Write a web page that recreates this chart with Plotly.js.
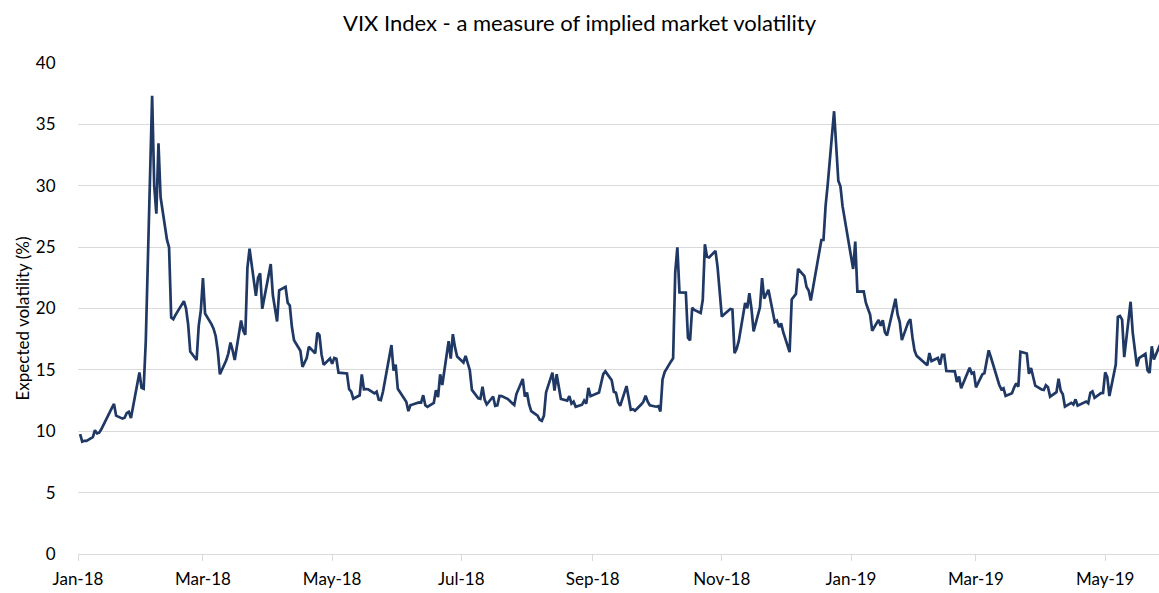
<!DOCTYPE html>
<html><head><meta charset="utf-8">
<script src="https://cdn.plot.ly/plotly-3.0.1.min.js"></script>
<style>html,body{margin:0;padding:0;background:#fff}#chart{width:1159px;height:593px}</style>
</head><body><div id="chart"></div>
<script>
const dates = [
'2018-01-02','2018-01-03','2018-01-04','2018-01-05','2018-01-08','2018-01-09','2018-01-10','2018-01-11','2018-01-12','2018-01-16','2018-01-17','2018-01-18','2018-01-19','2018-01-22','2018-01-23','2018-01-24','2018-01-25','2018-01-26','2018-01-29','2018-01-30','2018-01-31',
'2018-02-01','2018-02-02','2018-02-05','2018-02-06','2018-02-07','2018-02-08','2018-02-09','2018-02-12','2018-02-13','2018-02-14','2018-02-15','2018-02-16','2018-02-20','2018-02-21','2018-02-22','2018-02-23','2018-02-26','2018-02-27','2018-02-28',
'2018-03-01','2018-03-02','2018-03-05','2018-03-06','2018-03-07','2018-03-08','2018-03-09','2018-03-12','2018-03-13','2018-03-14','2018-03-15','2018-03-16','2018-03-19','2018-03-20','2018-03-21','2018-03-22','2018-03-23','2018-03-26','2018-03-27','2018-03-28','2018-03-29',
'2018-04-02','2018-04-03','2018-04-04','2018-04-05','2018-04-06','2018-04-09','2018-04-10','2018-04-11','2018-04-12','2018-04-13','2018-04-16','2018-04-17','2018-04-18','2018-04-19','2018-04-20','2018-04-23','2018-04-24','2018-04-25','2018-04-26','2018-04-27','2018-04-30',
'2018-05-01','2018-05-02','2018-05-03','2018-05-04','2018-05-07','2018-05-08','2018-05-09','2018-05-10','2018-05-11','2018-05-14','2018-05-15','2018-05-16','2018-05-17','2018-05-18','2018-05-21','2018-05-22','2018-05-23','2018-05-24','2018-05-25','2018-05-29','2018-05-30','2018-05-31',
'2018-06-01','2018-06-04','2018-06-05','2018-06-06','2018-06-07','2018-06-08','2018-06-11','2018-06-12','2018-06-13','2018-06-14','2018-06-15','2018-06-18','2018-06-19','2018-06-20','2018-06-21','2018-06-22','2018-06-25','2018-06-26','2018-06-27','2018-06-28','2018-06-29',
'2018-07-02','2018-07-03','2018-07-05','2018-07-06','2018-07-09','2018-07-10','2018-07-11','2018-07-12','2018-07-13','2018-07-16','2018-07-17','2018-07-18','2018-07-19','2018-07-20','2018-07-23','2018-07-24','2018-07-25','2018-07-26','2018-07-27','2018-07-30','2018-07-31',
'2018-08-01','2018-08-02','2018-08-03','2018-08-06','2018-08-07','2018-08-08','2018-08-09','2018-08-10','2018-08-13','2018-08-14','2018-08-15','2018-08-16','2018-08-17','2018-08-20','2018-08-21','2018-08-22','2018-08-23','2018-08-24','2018-08-27','2018-08-28','2018-08-29','2018-08-30','2018-08-31',
'2018-09-04','2018-09-05','2018-09-06','2018-09-07','2018-09-10','2018-09-11','2018-09-12','2018-09-13','2018-09-14','2018-09-17','2018-09-18','2018-09-19','2018-09-20','2018-09-21','2018-09-24','2018-09-25','2018-09-26','2018-09-27','2018-09-28',
'2018-10-01','2018-10-02','2018-10-03','2018-10-04','2018-10-05','2018-10-08','2018-10-09','2018-10-10','2018-10-11','2018-10-12','2018-10-15','2018-10-16','2018-10-17','2018-10-18','2018-10-19','2018-10-22','2018-10-23','2018-10-24','2018-10-25','2018-10-26','2018-10-29','2018-10-30','2018-10-31',
'2018-11-01','2018-11-02','2018-11-05','2018-11-06','2018-11-07','2018-11-08','2018-11-09','2018-11-12','2018-11-13','2018-11-14','2018-11-15','2018-11-16','2018-11-19','2018-11-20','2018-11-21','2018-11-23','2018-11-26','2018-11-27','2018-11-28','2018-11-29','2018-11-30',
'2018-12-03','2018-12-04','2018-12-06','2018-12-07','2018-12-10','2018-12-11','2018-12-12','2018-12-13','2018-12-14','2018-12-17','2018-12-18','2018-12-19','2018-12-20','2018-12-21','2018-12-24','2018-12-26','2018-12-27','2018-12-28','2018-12-31',
'2019-01-02','2019-01-03','2019-01-04','2019-01-07','2019-01-08','2019-01-09','2019-01-10','2019-01-11','2019-01-14','2019-01-15','2019-01-16','2019-01-17','2019-01-18','2019-01-22','2019-01-23','2019-01-24','2019-01-25','2019-01-28','2019-01-29','2019-01-30','2019-01-31',
'2019-02-01','2019-02-04','2019-02-05','2019-02-06','2019-02-07','2019-02-08','2019-02-11','2019-02-12','2019-02-13','2019-02-14','2019-02-15','2019-02-19','2019-02-20','2019-02-21','2019-02-22','2019-02-25','2019-02-26','2019-02-27','2019-02-28',
'2019-03-01','2019-03-04','2019-03-05','2019-03-06','2019-03-07','2019-03-08','2019-03-11','2019-03-12','2019-03-13','2019-03-14','2019-03-15','2019-03-18','2019-03-19','2019-03-20','2019-03-21','2019-03-22','2019-03-25','2019-03-26','2019-03-27','2019-03-28','2019-03-29',
'2019-04-01','2019-04-02','2019-04-03','2019-04-04','2019-04-05','2019-04-08','2019-04-09','2019-04-10','2019-04-11','2019-04-12','2019-04-15','2019-04-16','2019-04-17','2019-04-18','2019-04-22','2019-04-23','2019-04-24','2019-04-25','2019-04-26','2019-04-29','2019-04-30',
'2019-05-01','2019-05-02','2019-05-03','2019-05-06','2019-05-07','2019-05-08','2019-05-09','2019-05-10','2019-05-13','2019-05-14','2019-05-15','2019-05-16','2019-05-17','2019-05-20','2019-05-21','2019-05-22','2019-05-23','2019-05-24','2019-05-28'
];
const vix = [
9.77,9.15,9.22,9.22,9.52,10.08,9.82,9.88,10.16,11.66,11.91,12.22,11.27,11.03,11.10,11.47,11.58,11.08,13.84,14.79,13.54,
13.47,17.31,37.32,29.98,27.73,33.46,29.06,25.61,24.97,19.26,19.13,19.46,20.60,20.02,18.72,16.49,15.80,18.59,19.85,
22.47,19.59,18.73,18.36,17.76,16.54,14.64,15.78,16.35,17.23,16.59,15.80,19.02,18.20,17.86,23.34,24.87,21.03,22.50,22.87,19.97,
23.62,21.10,20.06,18.94,21.49,21.77,20.47,20.24,18.49,17.41,16.56,15.25,15.60,15.96,16.88,16.34,18.02,17.84,16.24,15.41,15.93,
15.49,15.97,15.90,14.77,14.75,14.71,13.42,13.23,12.65,12.93,14.63,13.42,13.43,13.42,13.08,13.22,12.58,12.53,13.22,17.02,14.94,15.43,
13.46,12.74,12.40,11.64,12.13,12.18,12.35,12.34,12.94,12.12,11.98,12.31,13.35,12.79,14.64,13.77,17.33,15.92,17.91,16.85,16.09,
15.60,16.14,14.97,13.37,12.69,12.64,13.63,12.58,12.18,12.83,12.06,12.10,12.87,12.86,12.62,12.41,12.29,12.14,13.03,14.26,12.83,
13.15,12.19,11.64,11.27,10.93,10.85,11.27,13.16,14.78,13.31,14.64,13.45,12.64,12.49,12.86,12.25,12.41,11.99,12.16,12.50,12.25,13.53,12.86,
13.16,13.91,14.65,14.88,14.16,13.22,13.14,12.37,12.07,13.68,12.79,11.75,11.80,11.68,12.20,12.42,12.89,12.41,12.12,
12.00,12.05,11.61,14.22,14.82,15.69,15.95,22.96,24.98,21.31,21.30,17.62,17.40,20.06,19.89,19.64,20.71,25.23,24.22,24.16,24.70,23.35,21.23,
19.34,19.51,19.96,19.91,16.36,16.72,17.36,20.45,20.02,21.25,19.98,18.14,20.10,22.48,20.80,21.52,18.90,19.02,18.49,18.79,18.07,
16.44,20.74,21.19,23.23,22.64,21.76,21.46,20.65,21.63,24.52,25.58,25.58,28.38,30.11,36.07,30.41,29.96,28.34,25.42,
23.22,25.45,21.38,21.40,20.47,19.98,19.50,18.19,19.07,18.60,19.04,18.06,17.80,20.80,19.52,18.89,17.42,18.87,19.13,17.66,16.57,
16.14,15.73,15.57,15.38,16.37,15.72,15.97,15.43,16.22,16.22,14.91,14.88,14.02,14.46,13.51,14.85,15.17,14.70,14.78,
13.57,14.63,14.74,15.74,16.59,16.05,14.33,13.77,13.41,13.50,12.88,13.10,13.56,13.91,13.63,16.48,16.33,14.68,15.15,14.43,13.71,
13.40,13.36,13.74,13.58,12.82,13.18,14.28,13.30,13.02,12.01,12.32,12.18,12.60,12.09,12.42,12.28,13.14,13.25,12.73,13.11,13.12,
14.80,14.42,12.87,15.44,19.32,19.40,19.10,16.04,20.55,18.06,16.44,15.29,15.96,16.31,14.95,14.75,16.92,15.85,17.50
];
const tickDates = ['2018-01-01','2018-03-01','2018-05-01','2018-07-01','2018-09-01','2018-11-01','2019-01-01','2019-03-01','2019-05-01'];
const tickLabels = ['Jan-18','Mar-18','May-18','Jul-18','Sep-18','Nov-18','Jan-19','Mar-19','May-19'];
const yTicks = [0,5,10,15,20,25,30,35,40];
const chartTitle = 'VIX Index - a measure of implied market volatility';
const yTitle = 'Expected volatility (%)';

const FONT = 'Lato, "Open Sans", "DejaVu Sans", sans-serif';
const trace = {
  type:'scatter', mode:'lines', x:dates, y:vix,
  line:{color:'#1f3864', width:2.7},
  hoverinfo:'x+y'
};
const layout = {
  width:1159, height:593,
  margin:{l:78, r:0, t:63, b:39, pad:0},
  paper_bgcolor:'#ffffff', plot_bgcolor:'#ffffff',
  font:{family:FONT, color:'#000000', size:17},
  showlegend:false,
  title:{text:chartTitle, font:{family:FONT, size:22, color:'#000000'},
    x:0.5, xanchor:'center', xref:'container', y:1-23/593, yanchor:'middle', yref:'container'},
  xaxis:{type:'date', range:['2018-01-01','2019-05-26 10:00'], tickmode:'array', tickvals:tickDates, ticktext:tickLabels,
    showgrid:false, zeroline:false, showline:true, linecolor:'#d9d9d9', linewidth:1,
    ticks:'outside', ticklen:6, tickwidth:1, tickcolor:'#d9d9d9', tickfont:{size:17, color:'#000000'},
    ticklabelstandoff:4, automargin:false, fixedrange:true},
  yaxis:{range:[0,40], tickmode:'array', tickvals:yTicks, showgrid:true, gridcolor:'#d9d9d9', gridwidth:1,
    zeroline:false, showline:false, ticks:'outside', ticklen:18, tickcolor:'rgba(0,0,0,0)',
    tickfont:{size:17, color:'#000000'}, automargin:false, fixedrange:true},
  annotations:[{text:yTitle, textangle:-90, xref:'paper', yref:'paper', x:0, y:0.5,
    xshift:-56, yshift:-10, xanchor:'center', yanchor:'middle', showarrow:false,
    font:{family:FONT, size:17, color:'#000000'}}]
};
Plotly.newPlot('chart', [trace], layout, {displayModeBar:false, staticPlot:true});
</script>
</body></html>
